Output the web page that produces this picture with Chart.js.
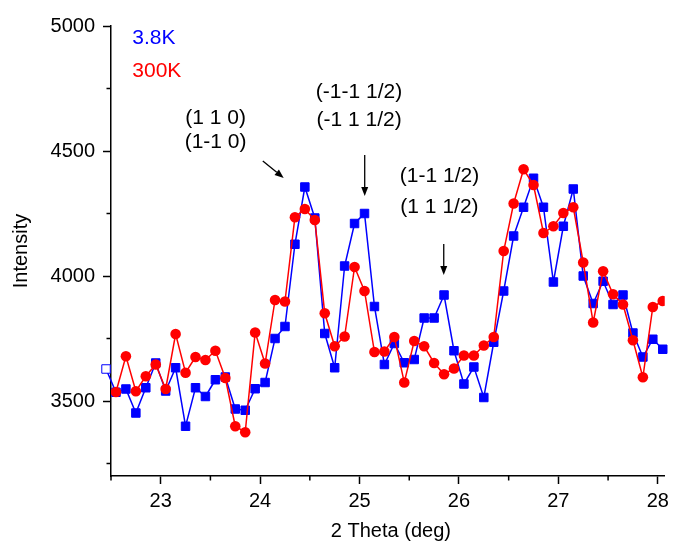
<!DOCTYPE html>
<html lang="en">
  <head>
    <meta charset="UTF-8" />
    <title>Intensity vs 2 Theta</title>
    <style>
      body { margin: 0; background: #fff; }
      .wrap { width: 674px; height: 541px; position: relative; }
    </style>
  </head>
  <body>
    <div class="wrap">
      <canvas id="xrdChart"></canvas>
    </div>
    <script src="https://cdn.jsdelivr.net/npm/chart.js@4.4.0/dist/chart.umd.min.js"></script>
    <script>
      // 2 theta positions (deg)
      const theta = [
        22.45, 22.55, 22.65, 22.75, 22.85, 22.95, 23.05, 23.15, 23.25, 23.35,
        23.45, 23.55, 23.65, 23.75, 23.85, 23.95, 24.05, 24.15, 24.25, 24.35,
        24.45, 24.55, 24.65, 24.75, 24.85, 24.95, 25.05, 25.15, 25.25, 25.35,
        25.45, 25.55, 25.65, 25.75, 25.85, 25.95, 26.05, 26.15, 26.25, 26.35,
        26.45, 26.55, 26.65, 26.75, 26.85, 26.95, 27.05, 27.15, 27.25, 27.35,
        27.45, 27.55, 27.65, 27.75, 27.85, 27.95, 28.05
      ];
      // 3.8K
      const lowT = [
        3628, 3535, 3548, 3452, 3553, 3652, 3540, 3633, 3399, 3553,
        3518, 3585, 3596, 3468, 3463, 3549, 3574, 3750, 3798, 4127,
        4356, 4232, 3770, 3633, 4040, 4210, 4250, 3878, 3646, 3730,
        3653, 3666, 3832, 3832, 3924, 3701, 3568, 3636, 3514, 3735,
        3940, 4160, 4275, 4391, 4275, 3976, 4199, 4348, 4000, 3890,
        3979, 3886, 3924, 3772, 3676, 3747, 3707
      ];
      // 300K
      const roomT = [
        null, 3536, 3679, 3539, 3599, 3646, 3548, 3768, 3613, 3676,
        3664, 3701, 3592, 3399, 3375, 3774, 3650, 3904, 3898, 4235,
        4268, 4224, 3851, 3719, 3758, 4036, 3940, 3696, 3698, 3756,
        3574, 3740, 3719, 3652, 3607, 3630, 3682, 3682, 3722, 3756,
        4100, 4290, 4427, 4364, 4172, 4199, 4252, 4275, 4054, 3814,
        4019, 3927, 3886, 3743, 3595, 3876, 3900
      ];
      const xMajorTicks = [23, 24, 25, 26, 27, 28];
      const xMinorTicks = [22.5, 23.5, 24.5, 25.5, 26.5, 27.5];
      const yMajorTicks = [3500, 4000, 4500, 5000];
      const yMinorTicks = [3250, 3750, 4250, 4750];

      // peak labels and arrows, in data units
      const peakLabels = [
        { x: 23.552, y: 4637, text: "(1 1 0)" },
        { x: 23.552, y: 4544, text: "(1-1 0)" },
        { x: 24.995, y: 4743, text: "(-1-1 1/2)" },
        { x: 24.995, y: 4629, text: "(-1 1 1/2)" },
        { x: 25.804, y: 4407, text: "(1-1 1/2)" },
        { x: 25.804, y: 4284, text: "(1 1 1/2)" }
      ];
      const peakArrows = [
        { x0: 24.027, y0: 4460, x1: 24.237, y1: 4392 },
        { x0: 25.052, y0: 4484, x1: 25.052, y1: 4320 },
        { x0: 25.847, y0: 4128, x1: 25.847, y1: 4004 }
      ];
      const legendItems = [
        { x: 22.714, y: 4960, text: "3.8K", color: "#0000ff" },
        { x: 22.714, y: 4828, text: "300K", color: "#ff0000" }
      ];

      const FONT = "'Liberation Sans', Arial, sans-serif";
      const FS = 20;
      const NOTE_FS = 21;

      const extras = {
        id: "extras",
        afterDraw(chart) {
          const ctx = chart.ctx;
          const xs = chart.scales.x;
          const ys = chart.scales.y;
          const area = chart.chartArea;
          ctx.save();
          // minor ticks
          ctx.strokeStyle = "#000";
          ctx.lineWidth = 1.5;
          xMinorTicks.forEach((v) => {
            const px = xs.getPixelForValue(v);
            ctx.beginPath();
            ctx.moveTo(px, area.bottom);
            ctx.lineTo(px, area.bottom + 4.5);
            ctx.stroke();
          });
          yMinorTicks.forEach((v) => {
            const py = ys.getPixelForValue(v);
            ctx.beginPath();
            ctx.moveTo(area.left, py);
            ctx.lineTo(area.left - 4.5, py);
            ctx.stroke();
          });

          ctx.font = NOTE_FS + "px " + FONT;
          ctx.textBaseline = "alphabetic";
          const capHalf = NOTE_FS * 0.358;

          // peak labels
          ctx.fillStyle = "#000";
          ctx.textAlign = "center";
          peakLabels.forEach((l) => {
            ctx.fillText(l.text, xs.getPixelForValue(l.x), ys.getPixelForValue(l.y) + capHalf);
          });

          // legend text
          ctx.textAlign = "left";
          legendItems.forEach((l) => {
            ctx.fillStyle = l.color;
            ctx.fillText(l.text, xs.getPixelForValue(l.x), ys.getPixelForValue(l.y) + capHalf);
          });

          // arrows
          ctx.strokeStyle = "#000";
          ctx.fillStyle = "#000";
          ctx.lineWidth = 1.3;
          peakArrows.forEach((a) => {
            const x0 = xs.getPixelForValue(a.x0), y0 = ys.getPixelForValue(a.y0);
            const x1 = xs.getPixelForValue(a.x1), y1 = ys.getPixelForValue(a.y1);
            const ang = Math.atan2(y1 - y0, x1 - x0);
            const len = 9, wid = 3.5;
            const bx = x1 - len * Math.cos(ang), by = y1 - len * Math.sin(ang);
            ctx.beginPath();
            ctx.moveTo(x0, y0);
            ctx.lineTo(bx, by);
            ctx.stroke();
            ctx.beginPath();
            ctx.moveTo(x1, y1);
            ctx.lineTo(bx + wid * Math.sin(ang), by - wid * Math.cos(ang));
            ctx.lineTo(bx - wid * Math.sin(ang), by + wid * Math.cos(ang));
            ctx.closePath();
            ctx.fill();
          });

          // axis titles
          ctx.font = FS + "px " + FONT;
          ctx.fillStyle = "#000";
          ctx.textAlign = "center";
          ctx.fillText("2 Theta (deg)", (area.left + area.right) / 2 + 3, 537);
          ctx.translate(21, (area.top + area.bottom) / 2);
          ctx.rotate(-Math.PI / 2);
          ctx.textBaseline = "middle";
          ctx.fillText("Intensity", 0, 0);
          ctx.restore();
        }
      };

      const lowPointFill = lowT.map((v, i) => (i === 0 ? "#ffffff" : "#0000ff"));

      const ctx = document.getElementById("xrdChart").getContext("2d");
      const xrdChart = new Chart(ctx, {
        type: "line",
        data: {
          datasets: [
            {
              label: "300K",
              data: theta.map((t, i) => ({ x: t, y: roomT[i] })),
              borderColor: "#ff0000",
              backgroundColor: "#ff0000",
              borderWidth: 1.5,
              pointStyle: "circle",
              pointRadius: 5.3,
              pointBorderWidth: 0,
              pointBackgroundColor: "#ff0000",
              tension: 0,
              spanGaps: false,
              order: 1
            },
            {
              label: "3.8K",
              data: theta.map((t, i) => ({ x: t, y: lowT[i] })),
              borderColor: "#0000ff",
              backgroundColor: "#0000ff",
              borderWidth: 1.5,
              pointStyle: "rect",
              pointRadius: 6,
              pointBorderWidth: 1,
              pointBorderColor: "#0000ff",
              pointBackgroundColor: lowPointFill,
              tension: 0,
              clip: false,
              order: 2
            }
          ]
        },
        options: {
          responsive: true,
          maintainAspectRatio: false,
          animation: false,
          devicePixelRatio: 1,
          layout: { padding: { top: 26, right: 6, left: 0, bottom: 0 } },
          plugins: {
            legend: { display: false },
            tooltip: { enabled: false }
          },
          scales: {
            x: {
              type: "linear",
              min: 22.5,
              max: 28.07,
              afterBuildTicks: (s) => { s.ticks = xMajorTicks.map((v) => ({ value: v })); },
              afterFit: (s) => { s.height = 65; },
              border: { display: true, color: "#000", width: 1.5 },
              grid: {
                drawOnChartArea: false,
                drawTicks: true,
                tickLength: 8,
                tickColor: "#000",
                tickWidth: 1.5
              },
              ticks: {
                color: "#000",
                font: { family: FONT, size: FS },
                padding: 5,
                maxRotation: 0,
                callback: (v) => String(v)
              }
            },
            y: {
              type: "linear",
              min: 3200,
              max: 5000,
              afterBuildTicks: (s) => { s.ticks = yMajorTicks.map((v) => ({ value: v })); },
              afterFit: (s) => { s.width = 111; },
              border: { display: true, color: "#000", width: 1.5 },
              grid: {
                drawOnChartArea: false,
                drawTicks: true,
                tickLength: 8,
                tickColor: "#000",
                tickWidth: 1.5
              },
              ticks: {
                color: "#000",
                font: { family: FONT, size: FS },
                padding: 8,
                callback: (v) => String(v)
              }
            }
          }
        },
        plugins: [extras]
      });
    </script>
  </body>
</html>
